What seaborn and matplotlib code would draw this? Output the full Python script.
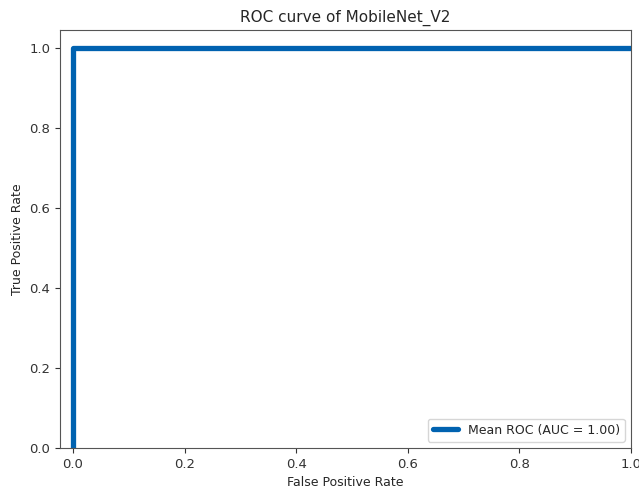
import matplotlib
matplotlib.use("Agg")
import matplotlib.pyplot as plt
import seaborn as sns
import pandas as pd

fpr = [0.0, 0.0, 1.0]
tpr = [0.0, 1.0, 1.0]
label = "Mean ROC (AUC = 1.00)"

sns.set_style("ticks")
plt.rcParams['font.family'] = ['DejaVu Sans']

df = pd.DataFrame({"fpr": fpr, "tpr": tpr})
fig, ax = plt.subplots(figsize=(6.39, 4.88), dpi=100)
fig.subplots_adjust(left=0.094, right=0.9875, top=0.9385, bottom=0.082)
sns.lineplot(data=df, x="fpr", y="tpr", sort=False, estimator=None,
             color="#0062b0", linewidth=3.8, label=label, ax=ax)
ax.set_xlim(-0.023, 1.0)
ax.set_ylim(0, 1.045)
ax.set_xticks([0, 0.2, 0.4, 0.6, 0.8, 1.0])
ax.set_yticks([0, 0.2, 0.4, 0.6, 0.8, 1.0])
ax.set_xlabel("False Positive Rate", fontsize=9)
ax.set_ylabel("True Positive Rate", fontsize=9)
ax.set_title("ROC curve of MobileNet_V2", fontsize=11)
ax.tick_params(labelsize=9.5, colors="#333333")
for s in ax.spines.values():
    s.set_color("#555555")
ax.legend(loc="lower right", fontsize=9)
fig.savefig("out.png", dpi=100)
